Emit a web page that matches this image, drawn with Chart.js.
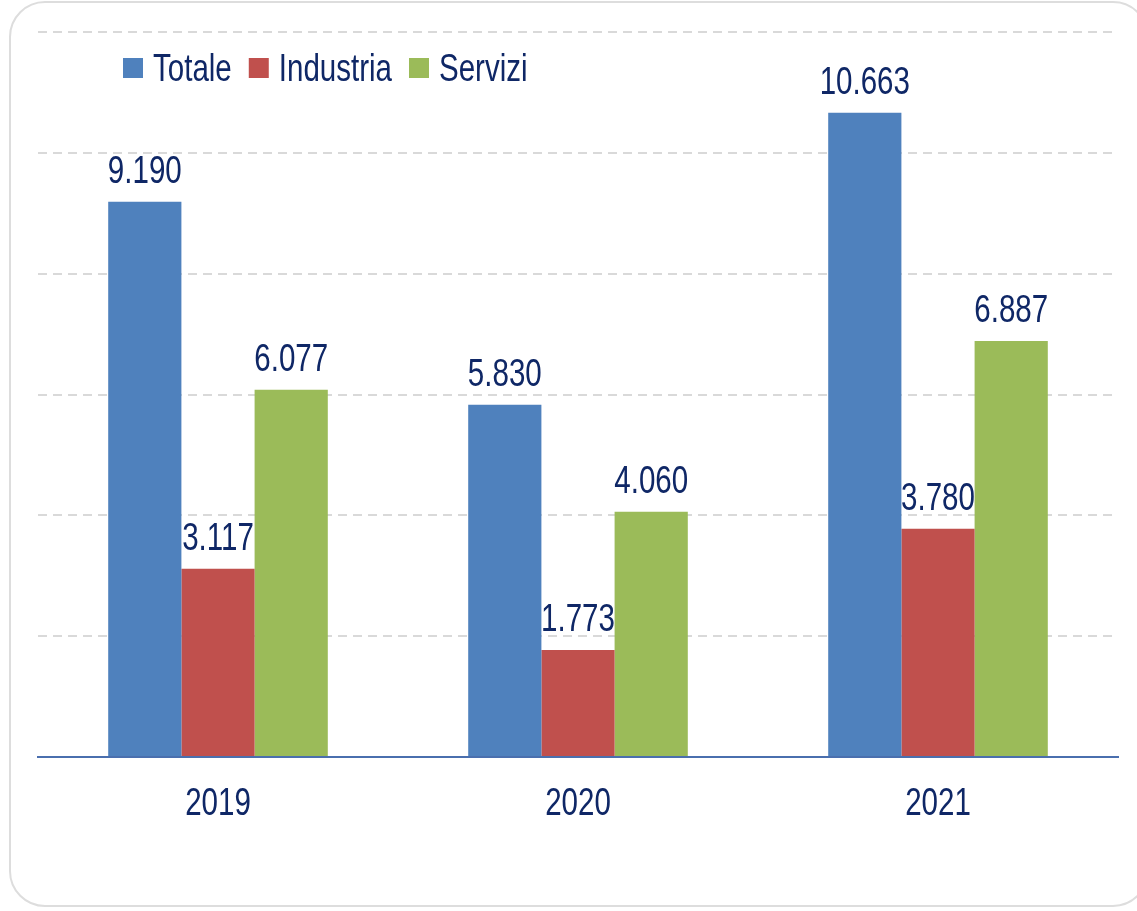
<!DOCTYPE html>
<html>
<head>
<meta charset="utf-8">
<script src="https://cdn.jsdelivr.net/npm/chart.js@4/dist/chart.umd.min.js"></script>
<style>
    html, body { margin: 0; padding: 0; background: #fff; }
    #wrap { position: relative; width: 1137px; height: 911px; overflow: hidden; }
    #frame {
        position: absolute; left: 9px; top: 1px; width: 1140px; height: 906px;
        border: 2px solid #dddddd; border-radius: 36px; box-sizing: border-box;
    }
    #chart { position: absolute; left: 0; top: 0; }
</style>
</head>
<body>
<div id="wrap">
    <div id="frame"></div>
    <canvas id="chart" width="1137" height="911"></canvas>
</div>
<script>
// Data
const years = ['2019', '2020', '2021'];
const totale = [9190, 5830, 10663];
const industria = [3117, 1773, 3780];
const servizi = [6077, 4060, 6887];
const seriesNames = ['Totale', 'Industria', 'Servizi'];

const FONT = '"Liberation Sans", Arial, sans-serif';
const TEXT_COLOR = '#0f2766';
const colors = ['#4f81bd', '#c0504d', '#9bbb59'];
const SX = 0.82, SY = 1.1; // narrow, slightly tall lettering like the original

// 9190 -> "9.190"
function formatIt(v) {
    return String(v).replace(/\B(?=(\d{3})+(?!\d))/g, '.');
}

function drawText(ctx, text, x, y, align) {
    ctx.save();
    ctx.translate(x, y);
    ctx.scale(SX, SY);
    ctx.textAlign = align;
    ctx.fillText(text, 0, 0);
    ctx.restore();
}

// Value labels, x labels and legend
const labelsPlugin = {
    id: 'valueLabels',
    afterDatasetsDraw(chart) {
        const ctx = chart.ctx;
        ctx.save();
        ctx.fillStyle = TEXT_COLOR;
        ctx.font = '36px ' + FONT;
        ctx.textBaseline = 'alphabetic';

        chart.data.datasets.forEach((ds, i) => {
            const meta = chart.getDatasetMeta(i);
            meta.data.forEach((bar, j) => {
                drawText(ctx, formatIt(ds.data[j]), bar.x, bar.y - 19, 'center');
            });
        });

        // category labels
        const xs = chart.scales.x;
        chart.data.labels.forEach((lab, i) => {
            drawText(ctx, lab, xs.getPixelForTick(i), 815, 'center');
        });

        // legend
        let x = 123;
        const cy = 68;
        chart.data.datasets.forEach((ds) => {
            ctx.fillStyle = ds.backgroundColor;
            ctx.fillRect(x, cy - 10, 20, 20);
            ctx.fillStyle = TEXT_COLOR;
            drawText(ctx, ds.label, x + 30, cy + 13, 'left');
            x += 30 + ctx.measureText(ds.label).width * SX + 17;
        });
        ctx.restore();
    }
};

new Chart(document.getElementById('chart'), {
    type: 'bar',
    data: {
        labels: years,
        datasets: [
            { label: seriesNames[0], data: totale, backgroundColor: colors[0] },
            { label: seriesNames[1], data: industria, backgroundColor: colors[1] },
            { label: seriesNames[2], data: servizi, backgroundColor: colors[2] },
        ]
    },
    options: {
        responsive: false,
        animation: false,
        layout: { padding: { left: 38, right: 19, top: 32, bottom: 0 } },
        datasets: {
            bar: { categoryPercentage: 0.61, barPercentage: 1.0, borderWidth: 0 }
        },
        plugins: {
            legend: { display: false },
            tooltip: { enabled: false },
        },
        scales: {
            x: {
                grid: { display: false, drawTicks: false },
                border: { display: true, color: '#4a6fae', width: 2 },
                ticks: { display: false },
                afterFit(scale) { scale.height = 154; },
            },
            y: {
                min: 0,
                max: 12000,
                ticks: { display: false, stepSize: 2000 },
                grid: { color: '#d9d9d9', lineWidth: 2, drawTicks: false },
                border: { display: false, dash: [9, 6] },
                afterFit(scale) { scale.width = 0; },
            }
        }
    },
    plugins: [labelsPlugin]
});
</script>
</body>
</html>
